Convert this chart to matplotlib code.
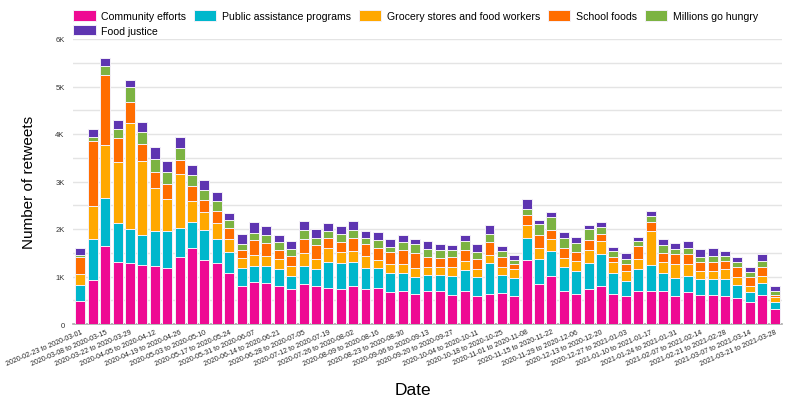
import matplotlib
matplotlib.use("Agg")
import matplotlib.pyplot as plt
from matplotlib.patches import Patch
import numpy as np
import pandas as pd

week_starts = pd.date_range("2020-02-23", "2021-03-21", freq="7D")
categories = [f"{d:%Y-%m-%d} to {(d + pd.Timedelta(days=7)):%Y-%m-%d}" for d in week_starts]

series_names = ["Community efforts", "Public assistance programs", "Grocery stores and food workers",
                "School foods", "Millions go hungry", "Food justice"]

community = [490, 920, 1640, 1300, 1280, 1250, 1220, 1180, 1410, 1600, 1350, 1290, 1080, 810, 880,
             870, 810, 730, 840, 790, 760, 730, 790, 730, 750, 670, 700, 630, 700, 700,
             610, 690, 580, 630, 650, 580, 1350, 850, 1020, 700, 630, 730, 800, 630, 580,
             690, 700, 690, 600, 680, 610, 610, 600, 540, 460, 620, 320]
public = [330, 870, 1020, 830, 730, 620, 740, 780, 610, 540, 620, 510, 430, 370, 350,
          350, 350, 290, 390, 360, 540, 550, 510, 450, 430, 410, 380, 360, 340, 340,
          410, 440, 400, 650, 390, 380, 460, 510, 520, 490, 480, 560, 680, 440, 320,
          460, 550, 380, 370, 330, 330, 340, 350, 280, 210, 250, 150]
grocery = [240, 700, 1110, 1290, 2230, 1570, 910, 680, 1130, 450, 380, 330, 290, 210, 230,
           220, 210, 210, 270, 220, 300, 230, 230, 250, 170, 180, 190, 190, 160, 170,
           180, 190, 180, 180, 170, 190, 270, 250, 240, 200, 210, 260, 260, 230, 210,
           220, 710, 230, 300, 260, 180, 170, 210, 160, 140, 150, 90]
school = [350, 1360, 1480, 490, 440, 340, 330, 300, 310, 320, 260, 250, 220, 170, 300,
          270, 190, 200, 300, 290, 220, 220, 290, 250, 250, 260, 290, 320, 220, 190,
          210, 230, 200, 270, 210, 120, 210, 260, 190, 210, 190, 210, 150, 120, 150,
          270, 190, 200, 200, 210, 180, 180, 170, 210, 190, 180, 60]
hungry = [50, 90, 190, 200, 300, 260, 280, 260, 250, 220, 220, 200, 160, 120, 160,
          170, 170, 140, 170, 160, 130, 170, 150, 130, 170, 110, 170, 180, 160, 150,
          150, 190, 150, 170, 110, 80, 130, 230, 280, 210, 190, 230, 150, 110, 110,
          100, 120, 170, 110, 130, 120, 130, 100, 120, 100, 120, 80]
justice = [140, 160, 160, 180, 160, 220, 250, 240, 220, 210, 200, 200, 160, 210, 230,
           190, 140, 170, 190, 180, 180, 160, 200, 150, 170, 150, 140, 110, 170, 140,
           100, 130, 180, 180, 120, 110, 210, 90, 100, 130, 140, 100, 100, 100, 130,
           100, 110, 130, 120, 140, 150, 170, 110, 110, 90, 160, 90]

colors = ["#EE0A93", "#00B7CC", "#FFA800", "#FF6D00", "#7CB342", "#5E35B1"]
series = [community, public, grocery, school, hungry, justice]
FAM = ["Liberation Sans", "DejaVu Sans"]

fig = plt.figure(figsize=(7.88, 4.02), dpi=100)
ax = fig.add_axes([73/788, 1-325/402, (782-73)/788, (325-40)/402])

x = np.arange(len(categories))
bottom = np.zeros(len(categories))
for vals, c in zip(series, colors):
    v = np.array(vals, dtype=float)
    ax.bar(x, v, bottom=bottom, width=0.8, color=c, edgecolor="#f4f0f8", linewidth=0.7, zorder=3)
    bottom += v

ax.set_xlim(-0.6, len(categories) - 0.4)
ax.set_ylim(0, 6000)
ax.set_yticks(np.arange(0, 6001, 1000))
ax.set_yticklabels(["0"] + [f"{k}K" for k in range(1, 7)], fontsize=5.5, color="#333333", family=FAM)
ax.set_yticks(np.arange(500, 6000, 1000), minor=True)
ax.grid(axis="y", which="both", color="#e4e4e4", linewidth=1.0, zorder=0)
ax.tick_params(axis="both", which="both", length=0)
ax.tick_params(axis="y", pad=6)
ax.set_xticks(x[::2])
ax.set_xticklabels(categories[::2], rotation=23, ha="right", rotation_mode="anchor",
                   fontsize=5.0, color="#222222", family=FAM)
ax.tick_params(axis="x", pad=3)
for s in ["top", "right", "left"]:
    ax.spines[s].set_visible(False)
ax.spines["bottom"].set_color("#aaaaaa")
ax.spines["bottom"].set_linewidth(1.2)

ax.set_ylabel("Number of retweets", fontsize=11, family=FAM, labelpad=14)
ax.set_xlabel("Date", fontsize=12.5, family=FAM)
ax.xaxis.set_label_coords(0.48, -0.205)

handles = [Patch(facecolor=c, edgecolor="#f4f0f8", linewidth=0.7) for c in colors]
order = [0, 5, 1, 2, 3, 4]
fig.legend([handles[i] for i in order], [series_names[i] for i in order], ncol=5,
           loc="upper left", bbox_to_anchor=(66/788, 0.99), frameon=False,
           prop={"family": FAM, "size": 7.6},
           handlelength=2.1, handleheight=1.1, handletextpad=0.5, columnspacing=0.8,
           labelspacing=0.4, borderaxespad=0.3)

fig.savefig("out.png", dpi=100)
